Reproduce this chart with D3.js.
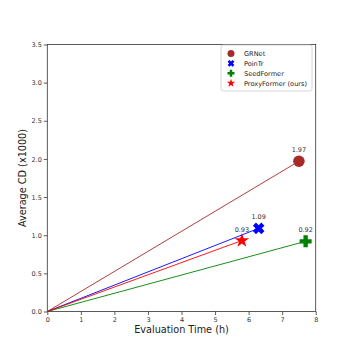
<!DOCTYPE html>
<html>
<head>
<meta charset="utf-8">
<script src="https://cdn.jsdelivr.net/npm/d3@7"></script>
<style>
  body { margin: 0; background: #fff; }
  text { font-family: "DejaVu Sans", sans-serif; }
</style>
</head>
<body>
<svg id="chart"></svg>
<script>
let w = 354;
let h = 354;

// data
let methods = ["GRNet", "PoinTr", "SeedFormer", "ProxyFormer (ours)"];
let evalTime = [7.5, 6.3, 7.7, 5.8];
let avgCD = [1.97, 1.09, 0.92, 0.93];
let colors = ["brown", "blue", "green", "red"];
let shapes = ["circle", "cross", "plus", "star"];
let xTicks = [0, 1, 2, 3, 4, 5, 6, 7, 8];
let yTicks = [0, 0.5, 1, 1.5, 2, 2.5, 3, 3.5];

let dataset = methods.map((m, i) => ({
  name: m, t: evalTime[i], cd: avgCD[i], color: colors[i], shape: shapes[i]
}));

let margin = {left: 47.3, right: 354 - 315.7, top: 44.5, bottom: 354 - 311.5};

let svg = d3.select("#chart").attr("width", w).attr("height", h);

let xScale = d3.scaleLinear().domain([0, 8]).range([margin.left, w - margin.right]);
let yScale = d3.scaleLinear().domain([0, 3.5]).range([h - margin.bottom, margin.top]);

// marker path generators
function markerPath(shape, size) {
  if (shape === "circle") return d3.symbol(d3.symbolCircle, size * size * Math.PI / 4)();
  if (shape === "star") return d3.symbol(d3.symbolStar, size * size * 0.45)();
  let a = size / 2, b = size / 5.5;
  let p = `M${-b},${-a}H${b}V${-b}H${a}V${b}H${b}V${a}H${-b}V${b}H${-a}V${-b}H${-b}Z`;
  return p;
}

// axes
let xAxis = d3.axisBottom(xScale).tickValues(xTicks).tickSize(3.5).tickPadding(2)
  .tickFormat(d3.format("d"));
let yAxis = d3.axisLeft(yScale).tickValues(yTicks).tickSize(3.5).tickPadding(2)
  .tickFormat(d3.format(".1f"));

let xg = svg.append("g").attr("transform", `translate(0,${h - margin.bottom})`).call(xAxis);
let yg = svg.append("g").attr("transform", `translate(${margin.left},0)`).call(yAxis);
[xg, yg].forEach(g => {
  g.select(".domain").remove();
  g.selectAll("line").attr("stroke", "#333").attr("stroke-width", 0.8);
  g.selectAll("text").attr("font-size", 6.5).attr("fill", "#333")
    .attr("font-family", "DejaVu Sans, sans-serif");
});

// frame
svg.append("rect")
  .attr("x", xScale(0)).attr("y", yScale(3.5))
  .attr("width", xScale(8) - xScale(0)).attr("height", yScale(0) - yScale(3.5))
  .attr("fill", "none").attr("stroke", "#333").attr("stroke-width", 0.8);

// lines from origin
svg.selectAll(".ray").data(dataset).enter().append("line")
  .attr("x1", xScale(0)).attr("y1", yScale(0))
  .attr("x2", d => xScale(d.t)).attr("y2", d => yScale(d.cd))
  .attr("stroke", d => d.color).attr("stroke-width", 0.9);

// markers
svg.selectAll(".mk").data(dataset).enter().append("path")
  .attr("d", d => markerPath(d.shape, d.shape === "circle" ? 11.5 : 12))
  .attr("transform", d => `translate(${xScale(d.t)},${yScale(d.cd)})` + (d.shape === "cross" ? " rotate(45)" : ""))
  .attr("fill", d => d.color);

// value labels
svg.selectAll(".lbl").data(dataset).enter().append("text")
  .attr("x", d => xScale(d.t))
  .attr("y", d => yScale(d.cd) - 9)
  .attr("text-anchor", "middle")
  .attr("font-size", 6.5).attr("fill", "#333")
  .text(d => d.cd.toFixed(2));

// axis titles
svg.append("text")
  .attr("x", (xScale(0) + xScale(8)) / 2).attr("y", 333)
  .attr("text-anchor", "middle").attr("font-size", 9.7).attr("fill", "#222")
  .text("Evaluation Time (h)");
svg.append("text")
  .attr("transform", `translate(26,${(yScale(0) + yScale(3.5)) / 2}) rotate(-90)`)
  .attr("text-anchor", "middle").attr("font-size", 9.7).attr("fill", "#222")
  .text("Average CD (x1000)");

// legend
let lg = svg.append("g").attr("transform", "translate(221,45)");
lg.append("rect").attr("width", 91).attr("height", 46).attr("rx", 2)
  .attr("fill", "#fff").attr("stroke", "#ccc").attr("stroke-width", 0.8);
dataset.forEach((d, i) => {
  let y = 8.5 + i * 9.9;
  lg.append("path")
    .attr("d", markerPath(d.shape, 7))
    .attr("transform", `translate(10,${y})` + (d.shape === "cross" ? " rotate(45)" : ""))
    .attr("fill", d.color);
  lg.append("text").attr("x", 23).attr("y", y + 2.3)
    .attr("font-size", 6.6).attr("fill", "#222").text(d.name);
});
</script>
</body>
</html>
